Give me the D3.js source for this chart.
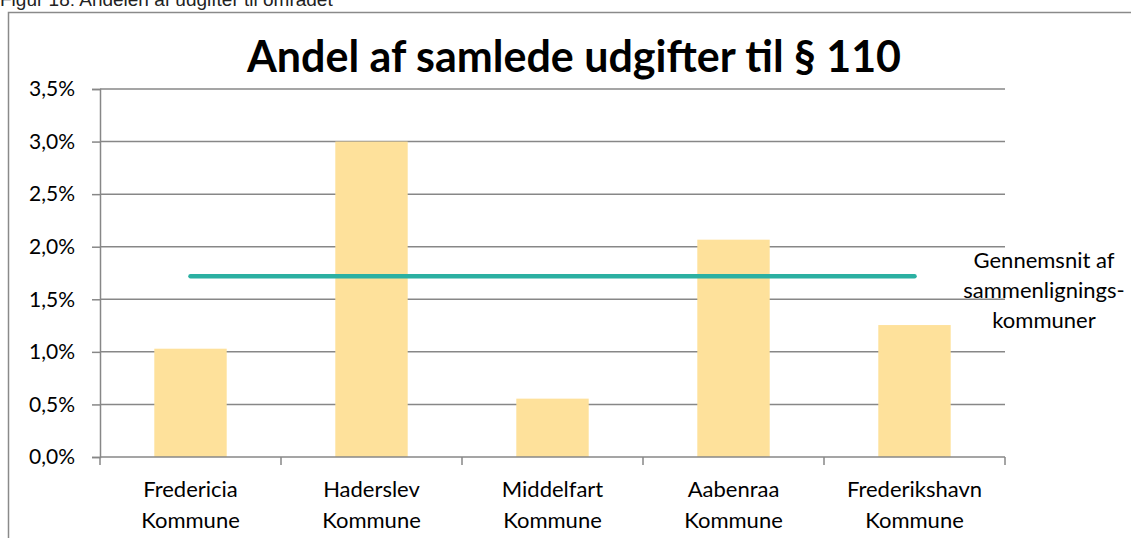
<!DOCTYPE html>
<html>
<head>
<meta charset="utf-8">
<script src="https://cdn.jsdelivr.net/npm/d3@7"></script>
<style>
  body { margin: 0; background: #fff; overflow: hidden; }
  svg { display: block; font-family: Lato, "Open Sans", sans-serif; }
</style>
</head>
<body>
<svg id="chart" width="1131" height="538"></svg>
<script>
// data
const categories = [
    ['Fredericia', 'Kommune'],
    ['Haderslev', 'Kommune'],
    ['Middelfart', 'Kommune'],
    ['Aabenraa', 'Kommune'],
    ['Frederikshavn', 'Kommune']
];
const shares = [1.03, 3.0, 0.555, 2.067, 1.255];
const averageShare = 1.72;
const yTicks = [0, 0.5, 1.0, 1.5, 2.0, 2.5, 3.0, 3.5];
const averageLabel = ['Gennemsnit af', 'sammenlignings-', 'kommuner'];
const chartTitle = 'Andel af samlede udgifter til § 110';
const figureCaption = 'Figur 18: Andelen af udgifter til området';

const margins = { left: 100, right: 1005, top: 89, bottom: 457 };
const gridColor = '#878787';

const svg = d3.select('#chart');

// caption, cut off by the top of the page as in the source
svg.append('text')
    .attr('x', 0)
    .attr('y', 6)
    .attr('font-family', 'Liberation Sans, Arial, sans-serif')
    .attr('font-size', 19)
    .attr('fill', '#222')
    .text(figureCaption);

// chart frame (only left and top edges are visible)
svg.append('rect')
    .attr('x', 8.5)
    .attr('y', 12.5)
    .attr('width', 1300)
    .attr('height', 700)
    .attr('fill', '#fff')
    .attr('stroke', '#8a8a8a')
    .attr('stroke-width', 1.5);

const names = categories.map(function(c) { return c.join(' '); });

const xScale = d3.scaleBand()
    .domain(names)
    .range([margins.left, margins.right])
    .paddingInner(0.6)
    .paddingOuter(0.3);

const yScale = d3.scaleLinear()
    .domain([0, 3.5])
    .range([margins.bottom, margins.top]);

// gridlines
svg.append('g')
    .selectAll('line')
    .data(yTicks.slice(1))
    .join('line')
    .attr('x1', margins.left)
    .attr('x2', margins.right)
    .attr('y1', function(d) { return yScale(d); })
    .attr('y2', function(d) { return yScale(d); })
    .attr('stroke', gridColor)
    .attr('stroke-width', 1.5);

// bars
svg.append('g')
    .selectAll('rect')
    .data(shares)
    .join('rect')
    .attr('x', function(d, i) { return xScale(names[i]); })
    .attr('width', xScale.bandwidth())
    .attr('y', function(d) { return yScale(d); })
    .attr('height', function(d) { return yScale(0) - yScale(d); })
    .attr('fill', '#fee19b');

// y axis
const yAxis = d3.axisLeft(yScale)
    .tickValues(yTicks)
    .tickSize(8)
    .tickPadding(17)
    .tickFormat(function(d) { return d3.format('.1f')(d).replace('.', ',') + '%'; });

const yAxisG = svg.append('g')
    .attr('transform', 'translate(' + margins.left + ',0)')
    .call(yAxis);

// x axis with ticks between categories
const xAxisG = svg.append('g')
    .attr('transform', 'translate(0,' + margins.bottom + ')');

xAxisG.append('line')
    .attr('x1', margins.left)
    .attr('x2', margins.right)
    .attr('stroke', gridColor)
    .attr('stroke-width', 1.5);

const step = xScale.step();
xAxisG.selectAll('.sep')
    .data(d3.range(names.length + 1))
    .join('line')
    .attr('class', 'sep')
    .attr('x1', function(i) { return margins.left + i * step; })
    .attr('x2', function(i) { return margins.left + i * step; })
    .attr('y1', 0)
    .attr('y2', 8)
    .attr('stroke', gridColor)
    .attr('stroke-width', 1.5);

xAxisG.selectAll('.cat')
    .data(categories)
    .join('text')
    .attr('class', 'cat')
    .attr('text-anchor', 'middle')
    .attr('font-size', 22)
    .attr('fill', '#000')
    .each(function(d, i) {
        const cx = xScale(names[i]) + xScale.bandwidth() / 2;
        d3.select(this).selectAll('tspan')
            .data(d)
            .join('tspan')
            .attr('x', cx)
            .attr('y', function(t, j) { return 40 + j * 31; })
            .text(function(t) { return t; });
    });

yAxisG.select('.domain').attr('stroke', gridColor).attr('stroke-width', 1.5);
yAxisG.selectAll('.tick line').attr('stroke', gridColor).attr('stroke-width', 1.5);
yAxisG.selectAll('.tick text')
    .attr('font-size', 21)
    .attr('font-family', 'Lato, sans-serif')
    .attr('fill', '#000');

// average line, center of first to center of last category
const avgLine = d3.line()
    .x(function(d) { return xScale(d) + xScale.bandwidth() / 2; })
    .y(function() { return yScale(averageShare); });

svg.append('path')
    .attr('d', avgLine([names[0], names[names.length - 1]]))
    .attr('stroke', '#2bb0a2')
    .attr('stroke-width', 4.5)
    .attr('stroke-linecap', 'round')
    .attr('fill', 'none');

// label for average line
svg.append('text')
    .attr('text-anchor', 'middle')
    .attr('font-size', 22)
    .attr('fill', '#000')
    .selectAll('tspan')
    .data(averageLabel)
    .join('tspan')
    .attr('x', 1044)
    .attr('y', function(d, i) { return 268 + i * 30; })
    .text(function(d) { return d; });

// title
svg.append('text')
    .attr('x', 574)
    .attr('y', 72)
    .attr('text-anchor', 'middle')
    .attr('font-size', 43)
    .attr('font-weight', 'bold')
    .attr('fill', '#000')
    .text(chartTitle);
</script>
</body>
</html>
